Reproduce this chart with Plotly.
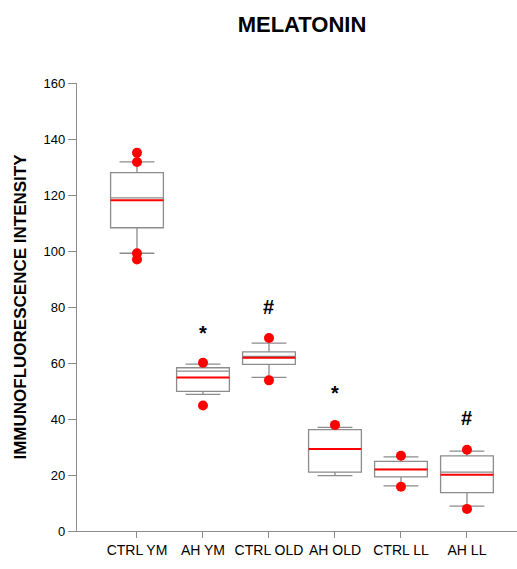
import plotly.graph_objects as go

categories = ["CTRL YM", "AH YM", "CTRL OLD", "AH OLD", "CTRL LL", "AH LL"]
q1 = [108.3, 49.9, 59.5, 21.0, 19.3, 13.7]
median = [119.0, 57.1, 62.4, 29.3, 22.0, 21.0]
q3 = [128.0, 58.3, 64.0, 36.2, 24.9, 26.8]
mean = [118.1, 54.8, 61.9, 29.3, 22.0, 20.1]
lower_whisker = [99.2, 48.8, 54.9, 19.8, 16.1, 8.9]
upper_whisker = [131.8, 59.6, 67.1, 37.0, 26.5, 28.5]
outliers = [[135.1, 131.8, 99.2, 97.0], [60.1, 44.8], [68.9, 53.8], [37.9], [26.9, 15.8], [29.0, 7.9]]
marks = ["", "*", "#", "*", "", "#"]
mark_y = [None, 70.8, 79.9, 49.2, None, 40.3]

xs = list(range(len(categories)))
BOXW = 0.8

fig = go.Figure()
fig.add_trace(go.Box(
    x=xs, q1=q1, median=median, q3=q3,
    lowerfence=lower_whisker, upperfence=upper_whisker,
    boxpoints=False, width=BOXW, whiskerwidth=0.66,
    fillcolor="white", line=dict(color="#8c8c8c", width=1.3),
    showlegend=False, hoverinfo="skip"))

mx, my = [], []
for i, m in enumerate(mean):
    mx += [i - BOXW / 2, i + BOXW / 2, None]
    my += [m, m, None]
fig.add_trace(go.Scatter(x=mx, y=my, mode="lines",
                         line=dict(color="#ff0000", width=2), showlegend=False))

ox, oy = [], []
for i, vals in enumerate(outliers):
    for v in vals:
        ox.append(i)
        oy.append(v)
fig.add_trace(go.Scatter(x=ox, y=oy, mode="markers",
                         marker=dict(color="#ff0000", size=10), showlegend=False))

for i, (t, yv) in enumerate(zip(marks, mark_y)):
    if t:
        fig.add_annotation(x=i, y=yv, text="<b>%s</b>" % t, showarrow=False,
                           font=dict(family="Liberation Sans, Arial", size=20, color="black"))

fig.update_layout(
    width=517, height=569,
    margin=dict(l=77, r=0, t=83, b=38),
    plot_bgcolor="white", paper_bgcolor="white",
    font=dict(family="Liberation Sans, Arial", color="black"),
    title=dict(text="<b>MELATONIN</b>", x=(77 + 527) / 2 / 517, xanchor="center",
               y=1 - 24 / 569, yanchor="middle",
               font=dict(size=22, family="Liberation Sans, Arial", color="black")),
)
fig.update_xaxes(range=[-0.909, 5.758], tickvals=xs, ticktext=categories,
                 showgrid=False, zeroline=False, showline=True, linecolor="#8c8c8c",
                 linewidth=1.3, ticks="outside", ticklen=6, tickcolor="#8c8c8c",
                 tickfont=dict(size=14, color="black"))
fig.update_yaxes(range=[0, 160], tickvals=list(range(0, 161, 20)),
                 showgrid=False, zeroline=False, showline=True, linecolor="#8c8c8c",
                 linewidth=1.3, ticks="outside", ticklen=8, tickcolor="#8c8c8c",
                 tickfont=dict(size=13, color="black"),
                 title=dict(text="<b>IMMUNOFLUORESCENCE INTENSITY</b>", standoff=12,
                            font=dict(size=17, color="black")))

fig.write_html("out.html")
